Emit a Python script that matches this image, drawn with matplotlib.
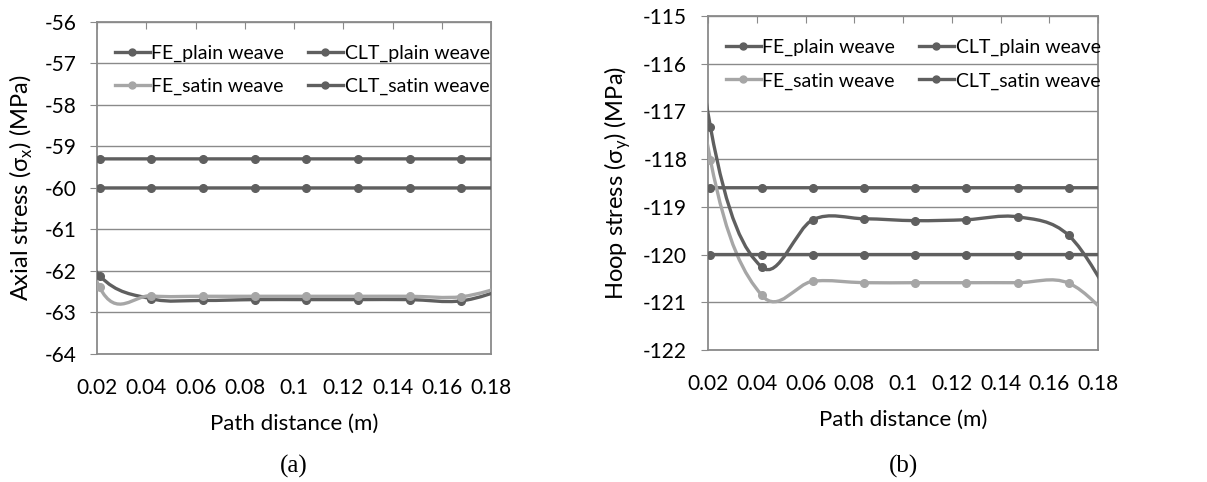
import numpy as np
import matplotlib
matplotlib.use("Agg")
import matplotlib.pyplot as plt
from matplotlib.path import Path
from matplotlib.patches import PathPatch
from matplotlib.lines import Line2D
from matplotlib.ticker import FuncFormatter

plt.rcParams["font.family"] = ["Lato", "DejaVu Sans"]
plt.rcParams["axes.unicode_minus"] = False

# path distance (m) of the sampled points (first and last fall outside the shown axis)
X = [0.0, 0.021, 0.042, 0.063, 0.084, 0.105, 0.126, 0.147, 0.168, 0.189]

# (a) axial stress, MPa
FE_PLAIN_A = [-60.0, -62.11, -62.67, -62.71, -62.69, -62.69, -62.69, -62.69, -62.72, -62.38]
CLT_PLAIN_A = [-59.3] * 10
FE_SATIN_A = [-57.8, -62.39, -62.60, -62.61, -62.61, -62.61, -62.61, -62.61, -62.62, -62.32]
CLT_SATIN_A = [-60.0] * 10

# (b) hoop stress, MPa
FE_PLAIN_B = [-108.5, -117.33, -120.26, -119.27, -119.25, -119.29, -119.27, -119.21, -119.60, -121.2]
CLT_PLAIN_B = [-118.6] * 10
FE_SATIN_B = [-110.0, -118.02, -120.85, -120.56, -120.59, -120.59, -120.59, -120.59, -120.60, -121.5]
CLT_SATIN_B = [-120.0] * 10

NAMES = ["FE_plain weave", "CLT_plain weave", "FE_satin weave", "CLT_satin weave"]
DARK, LIGHT, GRID = "#5f5f5f", "#a6a6a6", "#8a8a8a"
COLS = [DARK, DARK, LIGHT, DARK]


def smooth_path(x, y):
    # excel-like smoothed line: catmull-rom control points -> cubic bezier
    p = np.column_stack([x, y]).astype(float)
    p = np.vstack([2 * p[0] - p[1], p, 2 * p[-1] - p[-2]])
    verts, codes = [p[1]], [Path.MOVETO]
    for i in range(1, len(p) - 2):
        c1 = p[i] + (p[i + 1] - p[i - 1]) / 6
        c2 = p[i + 1] - (p[i + 2] - p[i]) / 6
        verts += [c1, c2, p[i + 1]]
        codes += [Path.CURVE4] * 3
    return Path(verts, codes)


def panel(ax, series, ylim, ylabel):
    for y, c in zip(series, COLS):
        ax.add_patch(PathPatch(smooth_path(X, y), fill=False, ec=c, lw=2.4,
                               transform=ax.transData, zorder=3))
        ax.plot(X, y, "o", color=c, ms=5.5, zorder=4)
    ax.set_xlim(0.02, 0.18)
    ax.set_ylim(*ylim)
    ax.set_xticks(np.arange(0.02, 0.181, 0.02))
    ax.xaxis.set_major_formatter(FuncFormatter(lambda v, p: "%g" % round(v, 2)))
    ax.set_yticks(np.arange(ylim[0], ylim[1] + 1, 1))
    ax.grid(axis="y", color=GRID, lw=1)
    ax.set_axisbelow(True)
    for s in ax.spines.values():
        s.set_color(GRID); s.set_linewidth(1.3)
    ax.tick_params(axis="x", bottom=False, top=True, direction="in", length=5,
                   color=GRID, labelsize=15, pad=17)
    ax.tick_params(axis="y", direction="out", length=5, color=GRID, labelsize=15, pad=10)
    ax.set_xlabel("Path distance (m)", fontsize=16, labelpad=12)
    ax.set_ylabel(ylabel, fontsize=17, labelpad=7)
    handles = [Line2D([], [], color=c, lw=2.4, marker="o", ms=5) for c in COLS]
    order = [0, 2, 1, 3]
    ax.legend([handles[i] for i in order], [NAMES[i] for i in order], ncol=2,
              frameon=False, fontsize=14, loc="upper left", bbox_to_anchor=(0.0, 0.985),
              handlelength=1.8, handletextpad=0.1, columnspacing=1.2, labelspacing=0.85)


fig = plt.figure(figsize=(12.07, 4.82), dpi=100)
ax1 = fig.add_axes([0.0804, 0.2656, 0.3264, 0.689])
ax2 = fig.add_axes([0.5866, 0.2739, 0.3231, 0.693])
panel(ax1, [FE_PLAIN_A, CLT_PLAIN_A, FE_SATIN_A, CLT_SATIN_A], (-64, -56),
      r"Axial stress (σ$_\mathregular{x}$) (MPa)")
panel(ax2, [FE_PLAIN_B, CLT_PLAIN_B, FE_SATIN_B, CLT_SATIN_B], (-122, -115),
      r"Hoop stress (σ$_\mathregular{y}$) (MPa)")
fig.text(0.0804 + 0.3264 / 2, 0.033, "(a)", ha="center", va="center", fontsize=18,
         family="Liberation Serif")
fig.text(0.5866 + 0.3231 / 2, 0.033, "(b)", ha="center", va="center", fontsize=18,
         family="Liberation Serif")
fig.savefig("out.png", dpi=100)
